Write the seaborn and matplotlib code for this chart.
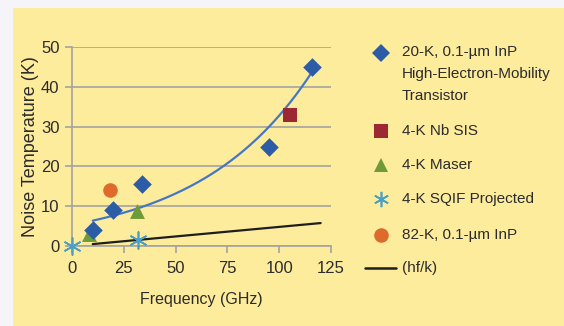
import numpy as np
import pandas as pd
import matplotlib
matplotlib.use("Agg")
import matplotlib.pyplot as plt
from matplotlib.patches import Rectangle
import seaborn as sns

# Noise temperature (K) versus frequency (GHz) for several amplifier technologies
hemt_freq = [10, 20, 34, 95, 116]
hemt_temp = [4, 9, 15.5, 25, 45]
sis_freq = [105]
sis_temp = [33]
maser_freq = [8, 31.5]
maser_temp = [2.9, 8.7]
sqif_freq = [0, 32]
sqif_temp = [0, 1.5]
inp82_freq = [18.5]
inp82_temp = [14]
quantum_freq = [10, 120]
quantum_temp = [0.48, 5.76]

x_ticks = [0, 25, 50, 75, 100, 125]
y_ticks = [0, 10, 20, 30, 40, 50]

labels = {
    "hemt": "20-K, 0.1-\u00b5m InP\nHigh-Electron-Mobility\nTransistor",
    "sis": "4-K Nb SIS",
    "maser": "4-K Maser",
    "sqif": "4-K SQIF Projected",
    "inp82": "82-K, 0.1-\u00b5m InP",
    "quantum": "(hf/k)",
}

sns.set_style("white")
plt.rcParams["font.family"] = ["Liberation Sans", "DejaVu Sans"]

BG = "#FEEC9D"
GRID = "#A3A3A3"
C_HEMT = "#2D5CA6"
C_TREND = "#4677C4"
C_SIS = "#9B2833"
C_MASER = "#6E9A38"
C_SQIF = "#4A9FC2"
C_INP = "#DE6B2C"
TXT = "#2B2B2B"

W, H = 564, 326
fig = plt.figure(figsize=(W / 100, H / 100), dpi=100, facecolor="#F5F5F9")
fig.patches.append(Rectangle((13 / W, 0), 1 - 13 / W, 1 - 8 / H,
                             transform=fig.transFigure, facecolor=BG,
                             edgecolor="none", zorder=-10))

ax = fig.add_axes([72 / W, 1 - 246 / H, (331 - 72) / W, (246 - 47) / H])
ax.set_facecolor("none")

hemt = pd.DataFrame({"f": hemt_freq, "T": hemt_temp})
sis = pd.DataFrame({"f": sis_freq, "T": sis_temp})
maser = pd.DataFrame({"f": maser_freq, "T": maser_temp})
sqif = pd.DataFrame({"f": sqif_freq, "T": sqif_temp})
inp82 = pd.DataFrame({"f": inp82_freq, "T": inp82_temp})
quantum = pd.DataFrame({"f": quantum_freq, "T": quantum_temp})

# Exponential trendline fitted to the HEMT points
b, ln_a = np.polyfit(hemt["f"], np.log(hemt["T"]), 1)
f_fit = np.linspace(hemt["f"].min(), hemt["f"].max(), 200)
trend = pd.DataFrame({"f": f_fit, "T": np.exp(ln_a + b * f_fit)})

sns.lineplot(data=quantum, x="f", y="T", ax=ax, color="#1E1E1E", lw=1.6, zorder=3)
sns.lineplot(data=trend, x="f", y="T", ax=ax, color=C_TREND, lw=1.6, zorder=4)
sns.scatterplot(data=sqif, x="f", y="T", ax=ax, marker=(6, 2, 0), s=150,
                color=C_SQIF, linewidth=1.2, zorder=5, clip_on=False)
sns.scatterplot(data=maser, x="f", y="T", ax=ax, marker="^", s=115,
                color=C_MASER, linewidth=0, zorder=5)
sns.scatterplot(data=inp82, x="f", y="T", ax=ax, marker="o", s=110,
                color=C_INP, linewidth=0, zorder=5)
sns.scatterplot(data=sis, x="f", y="T", ax=ax, marker="s", s=100,
                color=C_SIS, linewidth=0, zorder=5)
sns.scatterplot(data=hemt, x="f", y="T", ax=ax, marker="D", s=90,
                color=C_HEMT, linewidth=0, zorder=6)

ax.set_xlim(0, 125)
ax.set_ylim(0, 50)
ax.set_xticks(x_ticks)
ax.set_yticks(y_ticks)
ax.yaxis.grid(True, color=GRID, lw=1.2)
ax.xaxis.grid(False)
for side in ("top", "right"):
    ax.spines[side].set_visible(False)
for side in ("left", "bottom"):
    ax.spines[side].set_color(GRID)
    ax.spines[side].set_linewidth(1.2)
ax.tick_params(axis="both", which="major", length=5, width=1.2, color=GRID,
               labelsize=12, labelcolor=TXT, direction="out",
               bottom=True, left=True)
ax.tick_params(axis="x", pad=6)
ax.tick_params(axis="y", pad=4)
ax.set_xlabel("Frequency (GHz)", fontsize=11.5, color=TXT, labelpad=11)
ax.set_ylabel("Noise Temperature (K)", fontsize=13, color=TXT, labelpad=1)

# Legend drawn in pixel coordinates on an overlay
lg = fig.add_axes([0, 0, 1, 1])
lg.set_facecolor("none")
lg.set_xlim(0, W)
lg.set_ylim(H, 0)
lg.axis("off")
mx, tx = 381, 402
fs = 11
lg.plot([mx], [53], marker="D", ms=9, color=C_HEMT, mew=0, ls="none")
lg.text(tx, 45, labels["hemt"], fontsize=fs, color=TXT, va="top",
        linespacing=1.72)
lg.plot([mx], [131], marker="s", ms=10, color=C_SIS, mew=0, ls="none")
lg.text(tx, 131, labels["sis"], fontsize=fs, color=TXT, va="center")
lg.plot([mx], [165], marker="^", ms=10.5, color=C_MASER, mew=0, ls="none")
lg.text(tx, 165, labels["maser"], fontsize=fs, color=TXT, va="center")
lg.plot([mx], [199], marker=(6, 2, 0), ms=11, color=C_SQIF, mew=1.2, ls="none")
lg.text(tx, 199, labels["sqif"], fontsize=fs, color=TXT, va="center")
lg.plot([mx], [235], marker="o", ms=10.5, color=C_INP, mew=0, ls="none")
lg.text(tx, 235, labels["inp82"], fontsize=fs, color=TXT, va="center")
lg.plot([365, 396], [268, 268], color="#1E1E1E", lw=1.8)
lg.text(tx, 268, labels["quantum"], fontsize=fs, color=TXT, va="center")

fig.savefig("out.png", dpi=100, facecolor=fig.get_facecolor())
